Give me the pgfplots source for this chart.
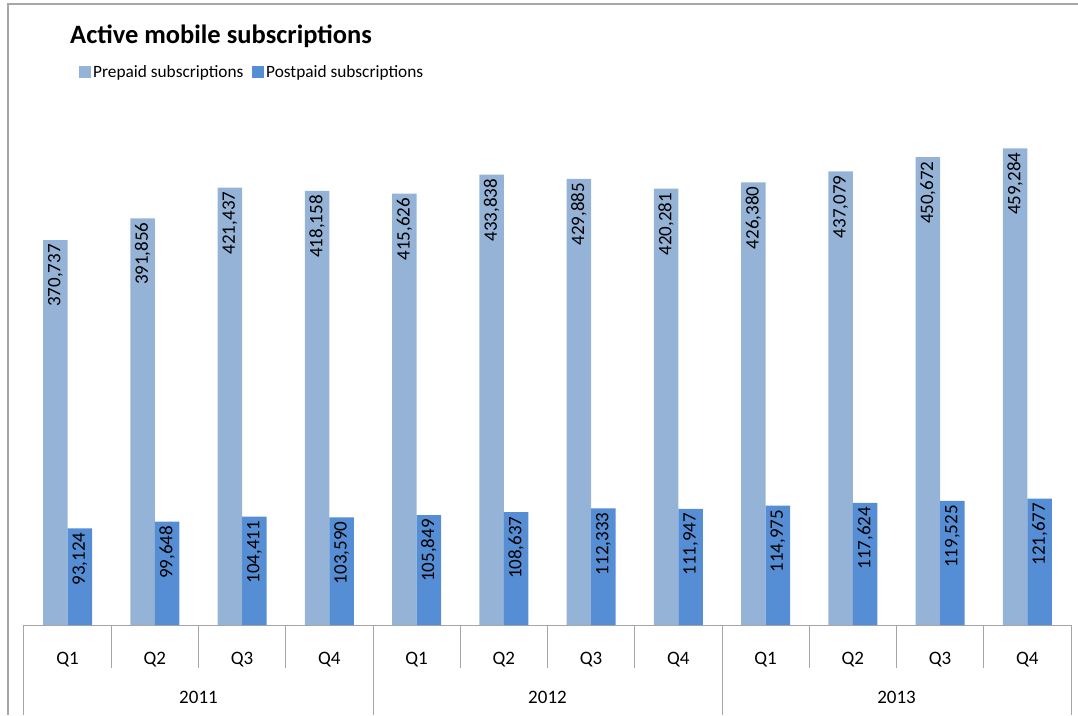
\documentclass[border=0pt]{standalone}
\usepackage{fontspec}
\setmainfont{Carlito}
\usepackage{pgfplots}
\pgfplotsset{compat=1.18}
\definecolor{pre}{HTML}{95B3D7}
\definecolor{post}{HTML}{558ED5}
\definecolor{fr}{HTML}{A6A6A6}
\begin{document}
\begin{tikzpicture}[x=1pt,y=1pt]
\path[use as bounding box] (-24,-90) rectangle (1054,625);
\begin{axis}[at={(0,0)}, anchor=south west, scale only axis, width=1047pt, height=519pt,
 xmin=-0.5, xmax=11.5, ymin=0, ymax=500000, clip=false,
 axis x line=bottom, axis y line=none, x axis line style={-, draw=fr, line width=1pt},
 ybar=0pt, bar width=24.5pt,
 xtick={0,...,11}, xticklabels={Q1,Q2,Q3,Q4,Q1,Q2,Q3,Q4,Q1,Q2,Q3,Q4},
 xtick style={draw=none},
 xticklabel style={anchor=center, yshift=-30pt, font=\fontsize{19}{22}\selectfont},
 nodes near coords,
 every node near coord/.append style={rotate=90, anchor=east, inner xsep=4pt, font=\fontsize{19}{22}\selectfont, text=black},
 /pgf/number format/.cd, fixed, precision=0, 1000 sep={,}, assume math mode=true
]
\addplot[fill=pre, draw=none] coordinates {(0,370737) (1,391856) (2,421437) (3,418158) (4,415626) (5,433838) (6,429885) (7,420281) (8,426380) (9,437079) (10,450672) (11,459284)};
\addplot[fill=post, draw=none] coordinates {(0,93124) (1,99648) (2,104411) (3,103590) (4,105849) (5,108637) (6,112333) (7,111947) (8,114975) (9,117624) (10,119525) (11,121677)};
\end{axis}
\foreach \k in {0,...,12} \draw[fr, line width=1pt] (\k*87.25,0) -- (\k*87.25,-43);
\foreach \k in {0,4,8,12} \draw[fr, line width=1pt] (\k*87.25,-43) -- (\k*87.25,-90);
\node[font=\fontsize{19}{22}\selectfont] at (174.5,-72) {2011};
\node[font=\fontsize{19}{22}\selectfont] at (523.5,-72) {2012};
\node[font=\fontsize{19}{22}\selectfont] at (872.5,-72) {2013};
\draw[fr, line width=1.5pt] (-16,-90) -- (-16,621) -- (1054,621);
\node[anchor=base west, font=\bfseries\fontsize{26.5}{30}\selectfont, inner sep=0] at (46,581) {Active mobile subscriptions};
\fill[pre] (55,547) rectangle (67,559);
\node[anchor=base west, font=\fontsize{17.3}{20}\selectfont, inner sep=0] at (69,547) {Prepaid subscriptions};
\fill[post] (228,547) rectangle (240,559);
\node[anchor=base west, font=\fontsize{17.3}{20}\selectfont, inner sep=0] at (242,547) {Postpaid subscriptions};
\end{tikzpicture}
\end{document}
